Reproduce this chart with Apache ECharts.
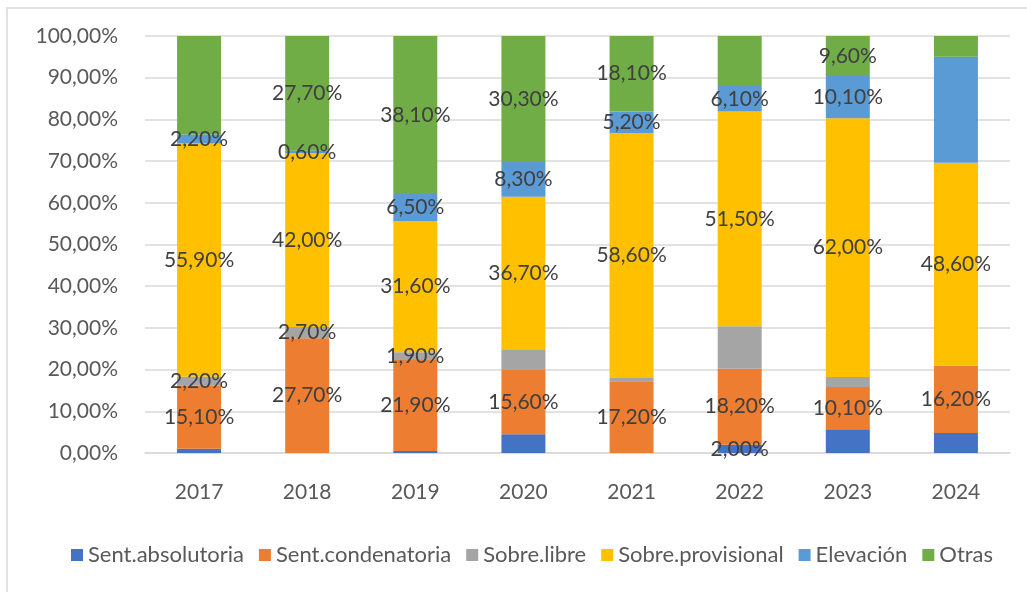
<!DOCTYPE html>
<html>
<head>
<meta charset="utf-8">
<script src="https://cdn.jsdelivr.net/npm/echarts@6/dist/echarts.min.js"></script>
<style>
  html, body { margin: 0; padding: 0; background: #fff; }
  #chart { width: 1027px; height: 592px; }
</style>
</head>
<body>
<div id="chart"></div>
<script>
const years = ['2017', '2018', '2019', '2020', '2021', '2022', '2023', '2024']
const yTicks = [0, 10, 20, 30, 40, 50, 60, 70, 80, 90, 100]

// valores en %
const absolutoria = [1.0, 0, 0.5, 4.5, 0, 2.0, 5.7, 4.8]
const condenatoria = [15.1, 27.7, 21.9, 15.6, 17.2, 18.2, 10.1, 16.2]
const libre = [2.2, 2.7, 1.9, 4.8, 1.0, 10.2, 2.4, 0]
const provisional = [55.9, 42.0, 31.6, 36.7, 58.6, 51.5, 62.0, 48.6]
const elevacion = [2.2, 0.6, 6.5, 8.3, 5.2, 6.1, 10.1, 25.4]
const otras = [23.6, 27.7, 38.1, 30.3, 18.1, 12.0, 9.6, 5.0]

// qué segmentos llevan etiqueta (1 = sí)
const absolutoriaLbl = [0, 0, 0, 0, 0, 1, 0, 0]
const condenatoriaLbl = [1, 1, 1, 1, 1, 1, 1, 1]
const libreLbl = [1, 1, 1, 0, 0, 0, 0, 0]
const provisionalLbl = [1, 1, 1, 1, 1, 1, 1, 1]
const elevacionLbl = [1, 1, 1, 1, 1, 1, 1, 0]
const otrasLbl = [0, 1, 1, 1, 1, 0, 1, 0]

const fmt = v => v.toFixed(2).replace('.', ',') + '%'

const rows = [
  { name: 'Sent.absolutoria', data: absolutoria, lbl: absolutoriaLbl, color: '#4472C4' },
  { name: 'Sent.condenatoria', data: condenatoria, lbl: condenatoriaLbl, color: '#ED7D31' },
  { name: 'Sobre.libre', data: libre, lbl: libreLbl, color: '#A5A5A5' },
  { name: 'Sobre.provisional', data: provisional, lbl: provisionalLbl, color: '#FFC000' },
  { name: 'Elevación', data: elevacion, lbl: elevacionLbl, color: '#5B9BD5' },
  { name: 'Otras', data: otras, lbl: otrasLbl, color: '#70AD47' }
]

// apilado al 100%: cada año se normaliza por su total
const totals = years.map((_, i) => rows.reduce((s, r) => s + r.data[i], 0))

const chart = echarts.init(document.getElementById('chart'))

const series = rows.map(r => ({
  name: r.name,
  type: 'bar',
  stack: 'total',
  barWidth: 44,
  itemStyle: { color: r.color },
  data: r.data.map((v, i) => ({
    value: v / totals[i] * 100,
    raw: v,
    label: { show: r.lbl[i] === 1 }
  })),
  label: {
    position: 'inside',
    color: '#404040',
    fontFamily: 'Lato',
    fontSize: 21,
    formatter: p => fmt(p.data.raw)
  }
}))

chart.setOption({
  animation: false,
  textStyle: { fontFamily: 'Lato' },
  graphic: [{
    type: 'rect',
    shape: { x: 7, y: 8, width: 1040, height: 600 },
    style: { fill: 'none', stroke: '#d9d9d9', lineWidth: 1.5 },
    silent: true
  }],
  grid: { left: 145, right: 17, top: 36, bottom: 139 },
  legend: {
    bottom: 21,
    left: 66,
    itemWidth: 12,
    itemHeight: 12,
    itemGap: 15,
    icon: 'rect',
    textStyle: { color: '#595959', fontSize: 22, fontFamily: 'Lato' },
    data: rows.map(r => r.name)
  },
  xAxis: {
    type: 'category',
    data: years,
    axisLine: { lineStyle: { color: '#d9d9d9', width: 1.5 } },
    axisTick: { show: false },
    axisLabel: { color: '#595959', fontSize: 21, margin: 29 }
  },
  yAxis: {
    type: 'value',
    min: yTicks[0],
    max: yTicks[yTicks.length - 1],
    interval: 10,
    axisLine: { show: false },
    axisTick: { show: false },
    splitLine: { lineStyle: { color: '#d9d9d9', width: 1.5 } },
    axisLabel: { color: '#595959', fontSize: 21, margin: 27, formatter: v => fmt(v) }
  },
  series
})
</script>
</body>
</html>
